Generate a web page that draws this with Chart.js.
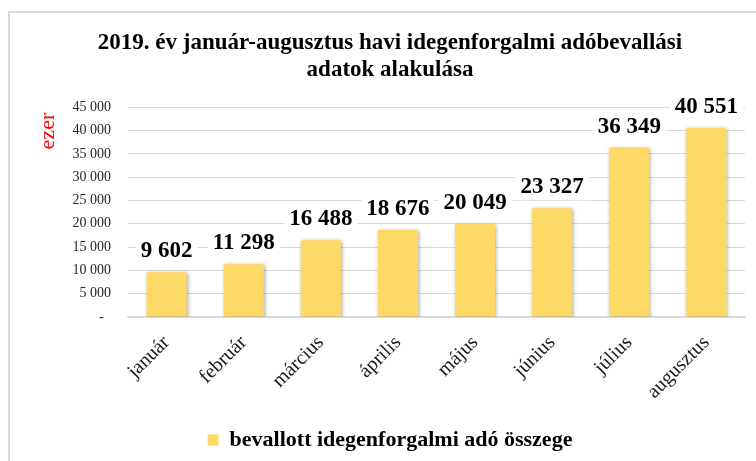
<!DOCTYPE html>
<html lang="hu">
<head>
<meta charset="utf-8">
<title>Idegenforgalmi adóbevallás 2019</title>
<script src="https://cdn.jsdelivr.net/npm/chart.js@4"></script>
<style>
  html, body { margin: 0; padding: 0; background: #fff; overflow: hidden; }
  .frame { position: absolute; left: 8px; top: 11px; width: 800px; height: 500px;
           border-left: 2px solid #d9d9d9; border-top: 2px solid #d9d9d9; }
  canvas { position: absolute; left: 0; top: 0; }
</style>
</head>
<body>
<div class="frame"></div>
<canvas id="chart" width="756" height="461"></canvas>
<script>
'use strict';

// Adatok (ezer Ft)
const honapok = ['január', 'február', 'március', 'április', 'május', 'június', 'július', 'augusztus'];
const ertekek = [9602, 11298, 16488, 18676, 20049, 23327, 36349, 40551];
const yTickek = [0, 5000, 10000, 15000, 20000, 25000, 30000, 35000, 40000, 45000];

const SERIF = "'Liberation Serif', 'Times New Roman', serif";
const SARGA = '#ffd966';

// ezres tagolás szóközzel: 40551 -> "40 551"
function tagol(n) {
    return String(n).replace(/\B(?=(\d{3})+(?!\d))/g, ' ');
}

// halvány árnyék az oszlopok mögött
const arnyek = {
    id: 'arnyek',
    beforeDatasetsDraw(chart) {
        const ctx = chart.ctx;
        ctx.save();
        ctx.shadowColor = 'rgba(0, 0, 0, 0.35)';
        ctx.shadowBlur = 4;
        ctx.shadowOffsetX = 1;
        ctx.shadowOffsetY = 1;
    },
    afterDatasetsDraw(chart) {
        chart.ctx.restore();
    }
};

// értékcímkék fehér háttérrel az oszlopok fölött
const cimkek = {
    id: 'cimkek',
    afterDatasetsDraw(chart) {
        const ctx = chart.ctx;
        const meta = chart.getDatasetMeta(0);
        ctx.save();
        ctx.font = 'bold 23px ' + SERIF;
        ctx.textAlign = 'center';
        ctx.textBaseline = 'middle';
        meta.data.forEach((bar, i) => {
            const szoveg = tagol(ertekek[i]);
            const w = ctx.measureText(szoveg).width;
            const y = bar.y - 21;
            ctx.fillStyle = '#fff';
            ctx.fillRect(bar.x - w / 2 - 5, y - 13, w + 10, 26);
            ctx.fillStyle = '#000';
            ctx.fillText(szoveg, bar.x, y);
        });
        ctx.restore();
    }
};

new Chart(document.getElementById('chart'), {
    type: 'bar',
    data: {
        labels: honapok,
        datasets: [{
            label: 'bevallott idegenforgalmi adó összege',
            data: ertekek,
            backgroundColor: SARGA,
            borderWidth: 0,
            barPercentage: 0.52,
            categoryPercentage: 1
        }]
    },
    options: {
        responsive: false,
        animation: false,
        layout: { padding: { left: 35, right: 11, top: 29, bottom: 0 } },
        scales: {
            y: {
                min: 0,
                max: 45000,
                afterBuildTicks: (scale) => { scale.ticks = yTickek.map(v => ({ value: v })); },
                afterFit: (scale) => { scale.width = 93; },
                ticks: {
                    padding: 17,
                    color: '#262626',
                    font: { family: SERIF, size: 14 },
                    callback: (v) => v === 0 ? '-  ' : tagol(v)
                },
                grid: { color: '#d9d9d9', lineWidth: 1, drawTicks: false },
                border: { display: false },
                title: {
                    display: true,
                    text: 'ezer ',
                    align: 'end',
                    color: '#ff0000',
                    font: { family: SERIF, size: 22 },
                    padding: { top: 0, bottom: 0 }
                }
            },
            x: {
                afterFit: (scale) => { scale.height = 102; },
                ticks: {
                    minRotation: 45,
                    maxRotation: 45,
                    padding: 14,
                    color: '#1a1a1a',
                    font: { family: SERIF, size: 20 }
                },
                grid: { display: false, drawTicks: false },
                border: { color: '#d9d9d9', width: 1.5 }
            }
        },
        plugins: {
            title: {
                display: true,
                text: ['2019. év január-augusztus havi idegenforgalmi adóbevallási', 'adatok alakulása'],
                color: '#000',
                font: { family: SERIF, size: 23, weight: 'bold', lineHeight: 1.18 },
                padding: { top: 0, bottom: 24 }
            },
            legend: {
                position: 'bottom',
                labels: {
                    color: '#000',
                    boxWidth: 11,
                    boxHeight: 11,
                    padding: 10,
                    font: { family: SERIF, size: 22, weight: 'bold' }
                }
            },
            tooltip: { enabled: false }
        }
    },
    plugins: [arnyek, cimkek]
});
</script>
</body>
</html>
